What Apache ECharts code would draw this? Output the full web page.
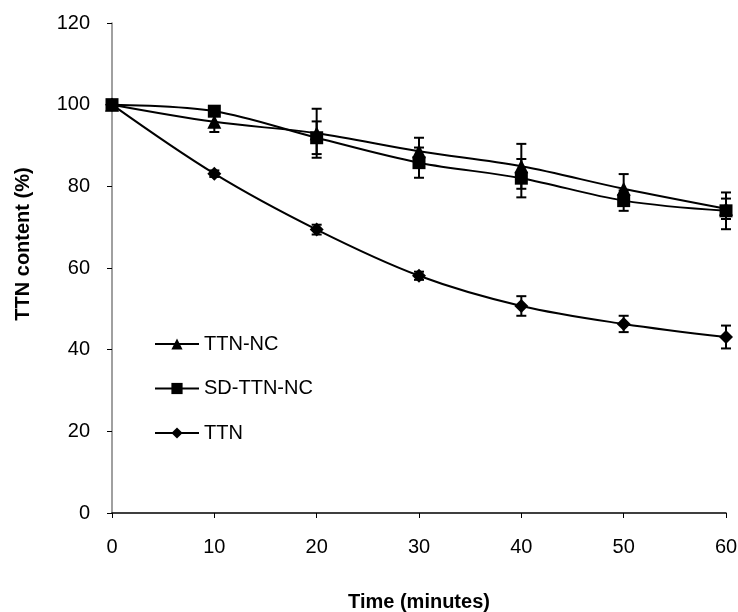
<!DOCTYPE html>
<html><head><meta charset="utf-8">
<script src="https://cdn.jsdelivr.net/npm/echarts@6/dist/echarts.min.js"></script>
<style>html,body{margin:0;padding:0;background:#fff}#c{width:738px;height:612px}</style>
</head><body><div id="c"></div>
<script>
const times = [0, 10, 20, 30, 40, 50, 60];
const ttnNC = [100, 95.8, 93, 88.6, 84.9, 79.4, 74.5];
const ttnNCErr = [0, 2.5, 6, 3.3, 5.5, 3.6, 2.5];
const sdTtnNC = [100, 98.4, 91.9, 85.8, 82, 76.5, 74];
const sdTtnNCErr = [0, 0.8, 4, 3.7, 4.7, 2.5, 4.5];
const ttn = [100, 83.1, 69.4, 58.1, 50.7, 46.3, 43.1];
const ttnErr = [0, 0.8, 1.2, 1, 2.4, 2, 2.8];
const yTicks = [0, 20, 40, 60, 80, 100, 120];

const font = "Liberation Sans, Arial, sans-serif";
function pairs(v){ return times.map((t,i)=>[t, v[i]]); }
function errData(v,e){ return times.map((t,i)=>[t, v[i]-e[i], v[i]+e[i]]); }
function errSeries(name, v, e){
  return {
    type: 'custom', name: name + ' err', silent: true, z: 1,
    data: errData(v,e),
    renderItem: function(params, api){
      const x = api.value(0);
      const lo = api.coord([x, api.value(1)]);
      const hi = api.coord([x, api.value(2)]);
      const w = 5;
      const st = {stroke:'#000', lineWidth:2};
      return {type:'group', children:[
        {type:'line', shape:{x1:lo[0],y1:lo[1],x2:hi[0],y2:hi[1]}, style:st},
        {type:'line', shape:{x1:lo[0]-w,y1:lo[1],x2:lo[0]+w,y2:lo[1]}, style:st},
        {type:'line', shape:{x1:hi[0]-w,y1:hi[1],x2:hi[0]+w,y2:hi[1]}, style:st}
      ]};
    }
  };
}
function lineSeries(name, v, sym, size){
  return {
    type:'line', name:name, data:pairs(v), smooth:0.35, symbol:sym, symbolSize:size,
    showAllSymbol:true, z:2,
    lineStyle:{color:'#000', width:2}, itemStyle:{color:'#000'}
  };
}
const chart = echarts.init(document.getElementById('c'));
chart.setOption({
  animation:false,
  grid:{left:112, right:12, top:23, bottom:99, containLabel:false, outerBoundsMode:'none'},
  legend:{
    orient:'vertical', left:154, top:334, padding:0, itemGap:24.5, itemWidth:44, itemHeight:14,
    data:['TTN-NC','SD-TTN-NC','TTN'],
    textStyle:{fontFamily:font, fontSize:20, color:'#000'}
  },
  xAxis:{
    type:'value', min:0, max:60, interval:10,
    name:'Time (minutes)', nameLocation:'middle', nameGap:79,
    nameTextStyle:{fontFamily:font, fontSize:20, fontWeight:'bold', color:'#000', verticalAlign:'top'},
    axisLine:{lineStyle:{color:'#000', width:1.5}},
    axisTick:{show:true, length:5, lineStyle:{color:'#000'}},
    axisLabel:{fontFamily:font, fontSize:20, color:'#000', margin:24},
    splitLine:{show:false}
  },
  yAxis:{
    type:'value', min:0, max:120, interval:20,
    name:'TTN content (%)', nameLocation:'middle', nameGap:79,
    nameTextStyle:{fontFamily:font, fontSize:20, fontWeight:'bold', color:'#000', padding:[0,0,0,48]},
    axisLine:{show:true, lineStyle:{color:'#808080', width:1.5}},
    axisTick:{show:true, length:5, lineStyle:{color:'#000'}},
    axisLabel:{fontFamily:font, fontSize:20, color:'#000', margin:22, padding:[4,0,0,0],
      formatter:function(v){ return yTicks.indexOf(v)>=0 ? String(v) : ''; }},
    splitLine:{show:false}
  },
  series:[
    errSeries('TTN-NC', ttnNC, ttnNCErr),
    errSeries('SD-TTN-NC', sdTtnNC, sdTtnNCErr),
    errSeries('TTN', ttn, ttnErr),
    lineSeries('TTN-NC', ttnNC, 'triangle', 14),
    lineSeries('SD-TTN-NC', sdTtnNC, 'rect', 13),
    lineSeries('TTN', ttn, 'diamond', 14)
  ]
});
</script></body></html>
